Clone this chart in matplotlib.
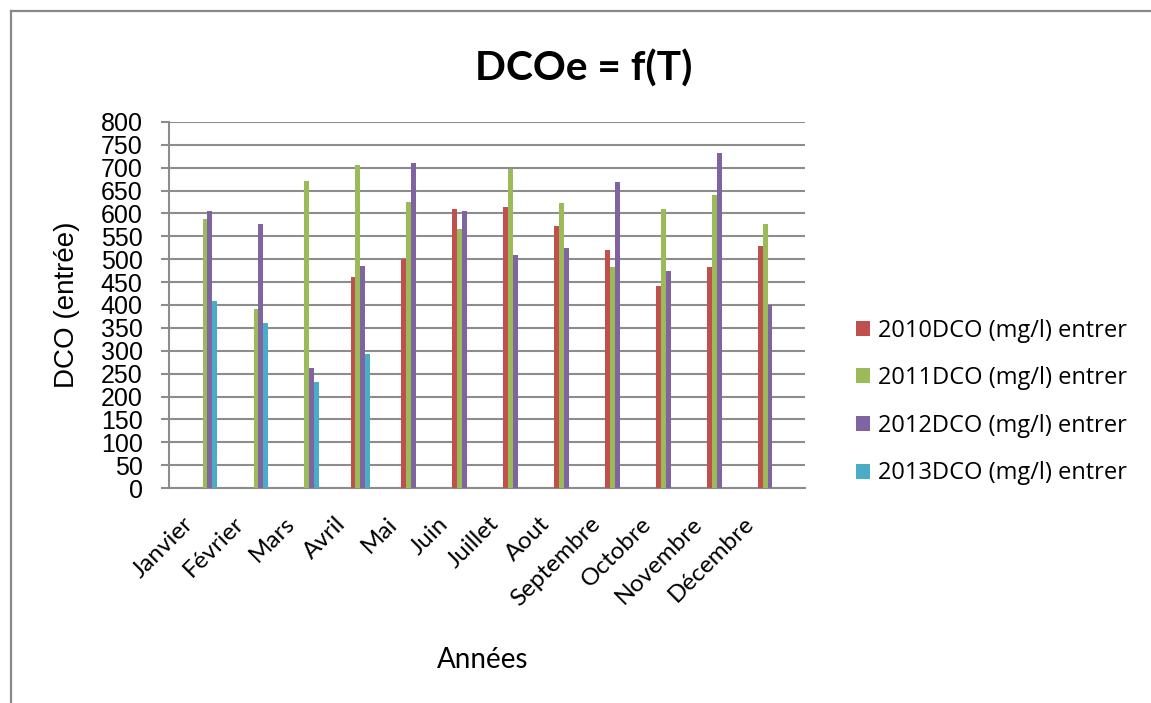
"""DCO en entrée par mois, 2010-2013."""

import numpy as np
import matplotlib.pyplot as plt
from matplotlib.lines import Line2D
from matplotlib.transforms import ScaledTranslation

months = ["Janvier", "Février", "Mars", "Avril", "Mai", "Juin", "Juillet",
          "Aout", "Septembre", "Octobre", "Novembre", "Décembre"]

dco_2010 = [np.nan, np.nan, np.nan, 462, 501, 609, 615, 573, 521, 442, 484, 530]
dco_2011 = [589, 392, 672, 707, 626, 567, 698, 624, 484, 609, 641, 577]
dco_2012 = [606, 576, 262, 486, 711, 606, 510, 525, 668, 475, 733, 400]
dco_2013 = [409, 361, 231, 293, np.nan, np.nan, np.nan, np.nan, np.nan,
            np.nan, np.nan, np.nan]

series = {
    "2010DCO (mg/l) entrer": dco_2010,
    "2011DCO (mg/l) entrer": dco_2011,
    "2012DCO (mg/l) entrer": dco_2012,
    "2013DCO (mg/l) entrer": dco_2013,
}
colors = ["#C0504D", "#9BBB59", "#8064A2", "#4BACC6"]
grid_grey = "#8C8C8C"

fig = plt.figure(figsize=(11.51, 7.03), dpi=100)
ax = fig.add_axes([0.1468, 0.3058, 0.5526, 0.5207])

x = np.arange(len(months))
width = 0.095
for k, (label, vals) in enumerate(series.items()):
    ax.bar(x + (k - 1.5) * width, np.array(vals, dtype=float), width,
           color=colors[k], label=label, zorder=3)

ax.set_ylim(0, 800)
ax.set_yticks(np.arange(0, 801, 50))
ax.set_xlim(-0.756, 11.734)
ax.set_xticks(x)
ax.set_xticklabels(months, rotation=45, ha="right", va="top",
                   rotation_mode="anchor", family="Lato", fontsize=17.5)
ax.tick_params(axis="x", length=0, pad=18)
# shift month labels a little to the left of their group
shift = ScaledTranslation(-0.25, 0, fig.dpi_scale_trans)
for lbl in ax.get_xticklabels():
    lbl.set_transform(lbl.get_transform() + shift)

ax.tick_params(axis="y", direction="out", length=6, width=1.5,
               color=grid_grey, pad=13, labelsize=18)
for lbl in ax.get_yticklabels():
    lbl.set_family("Liberation Sans")

ax.grid(axis="y", color=grid_grey, linewidth=1.5, zorder=0)
for side in ["top", "right"]:
    ax.spines[side].set_visible(False)
for side in ["left", "bottom"]:
    ax.spines[side].set_color(grid_grey)
    ax.spines[side].set_linewidth(1.5)

ax.set_ylabel("DCO (entrée)", family="Liberation Sans", fontsize=20,
              labelpad=15)
fig.text(0.4196, 0.061, "Années", family="Lato", fontsize=20,
         ha="center", va="center")
fig.text(0.5075, 0.903, "DCOe = f(T)", family="Lato", fontweight="bold",
         fontsize=29.3, ha="center", va="center")

ax.legend(loc="center left", bbox_to_anchor=(1.065, 0.235), frameon=False,
          prop={"family": "Open Sans", "size": 17}, handlelength=0.6,
          handleheight=0.6, handletextpad=0.35, labelspacing=1.0,
          borderaxespad=0)

# chart border (left and top edges)
fig.add_artist(Line2D([0.0096, 0.0096], [0, 0.984], transform=fig.transFigure,
                      color="#888888", linewidth=1.6))
fig.add_artist(Line2D([0.0096, 1.0], [0.984, 0.984], transform=fig.transFigure,
                      color="#888888", linewidth=1.6))

fig.savefig("out.png", dpi=100)
